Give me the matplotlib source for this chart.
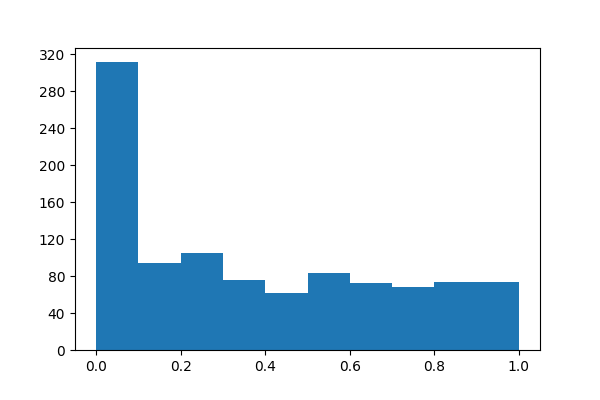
import matplotlib
matplotlib.use("Agg")
import matplotlib.pyplot as plt
from matplotlib.ticker import MultipleLocator
import numpy as np

# histogram bin edges and counts
bin_edges = [0.0, 0.1, 0.2, 0.3, 0.4, 0.5, 0.6, 0.7, 0.8, 0.9, 1.0]
counts = [311, 94, 105, 76, 62, 83, 72, 68, 73, 73]

fig, ax = plt.subplots(figsize=(6, 4), dpi=100)
fig.subplots_adjust(left=0.125, right=0.9, bottom=0.125, top=0.88)
ax.hist(bin_edges[:-1], bins=bin_edges, weights=counts, color="#1f77b4")

ax.yaxis.set_major_locator(MultipleLocator(40))
ax.set_xticks([0.0, 0.2, 0.4, 0.6, 0.8, 1.0])

fig.savefig("out.png", dpi=100)
